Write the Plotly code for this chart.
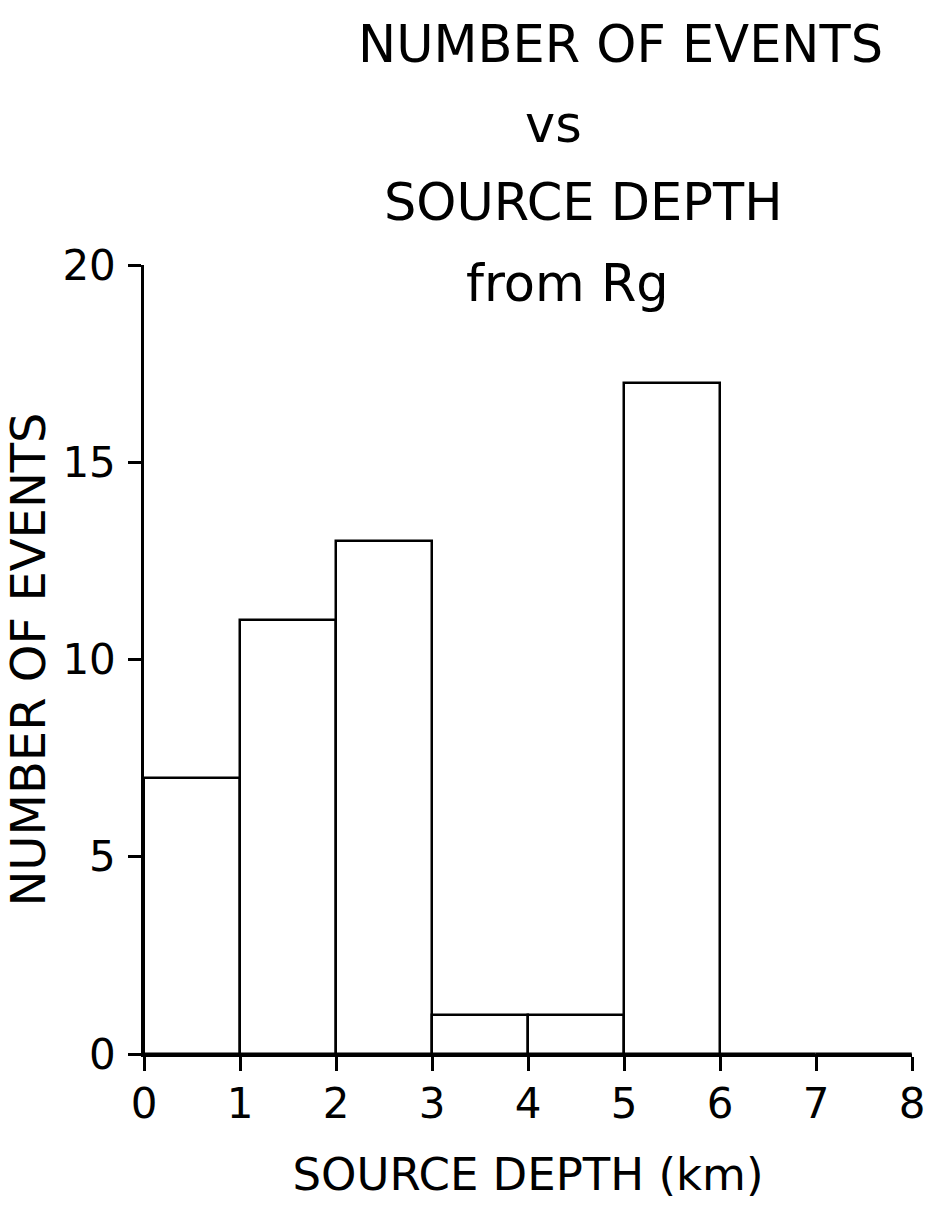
import plotly.graph_objects as go

# Histogram data
bin_left = [0, 1, 2, 3, 4, 5, 6, 7]
bin_width = [1, 1, 1, 1, 1, 1, 1, 1]
counts = [7, 11, 13, 1, 1, 17, 0, 0]

x_ticks = [0, 1, 2, 3, 4, 5, 6, 7, 8]
y_ticks = [0, 5, 10, 15, 20]

title_lines = ["NUMBER OF EVENTS", "vs", "SOURCE DEPTH", "from Rg"]
x_title = "SOURCE DEPTH (km)"
y_title = "NUMBER OF EVENTS"

FONT = "DejaVu Sans"

fig = go.Figure()
fig.add_trace(go.Bar(
    x=bin_left,
    y=counts,
    width=bin_width,
    offset=0,
    marker=dict(color="white", line=dict(color="black", width=2.5)),
    showlegend=False,
    hoverinfo="skip",
))

L, R, T, B = 144, 14, 265, 154
W, H = 926, 1208
pw = W - L - R
ph = H - T - B
centers_px = [(620, 45), (553, 125), (583, 202), (567, 283)]
for text, (cx, cy) in zip(title_lines, centers_px):
    fig.add_annotation(
        text=text, xref="paper", yref="paper",
        x=(cx - L) / pw, y=(H - B - cy) / ph,
        xanchor="center", yanchor="middle", showarrow=False,
        font=dict(family=FONT, size=51, color="black"),
    )

fig.update_layout(
    width=W, height=H,
    margin=dict(l=L, r=R, t=T, b=B, autoexpand=False),
    paper_bgcolor="white", plot_bgcolor="white",
    bargap=0,
    font=dict(family=FONT, color="black"),
    xaxis=dict(
        range=[0, 8], tickvals=x_ticks, ticktext=[str(v) for v in x_ticks],
        showline=True, linecolor="black", linewidth=2.5,
        ticks="outside", ticklen=14, tickwidth=2.5, tickcolor="black",
        showgrid=False, zeroline=False, automargin=False,
        tickfont=dict(family=FONT, size=42), ticklabelstandoff=-3,
        title=dict(text=x_title, font=dict(family=FONT, size=45), standoff=32),
    ),
    yaxis=dict(
        range=[0, 20], tickvals=y_ticks, ticktext=[str(v) for v in y_ticks],
        showline=True, linecolor="black", linewidth=2.5,
        ticks="outside", ticklen=13, tickwidth=2.5, tickcolor="black",
        showgrid=False, zeroline=False, automargin=False,
        tickfont=dict(family=FONT, size=42), ticklabelstandoff=4,
        title=dict(text=y_title, font=dict(family=FONT, size=48), standoff=7),
    ),
)

fig.write_html(
    "out.html",
    config={"displayModeBar": False},
    post_script="document.body.style.margin='0';document.body.style.overflow='hidden';",
)
